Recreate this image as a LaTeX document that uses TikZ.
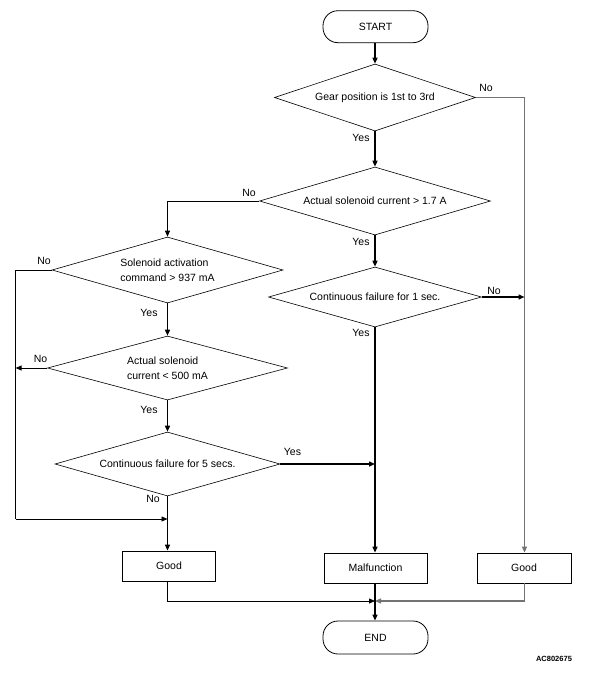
\documentclass[tikz,border=0pt]{standalone}
\usepackage{fontspec}
\setmainfont{Liberation Sans}
\usetikzlibrary{shapes.geometric,arrows.meta}
\begin{document}
\begin{tikzpicture}[x=1pt,y=-1pt,
  font=\fontsize{10.5}{15.5}\selectfont,
  dia/.style={draw,shape=diamond,line width=0.6pt,inner sep=0pt,align=left},
  term/.style={draw,rectangle,rounded corners=15pt,line width=0.8pt,minimum width=105pt,minimum height=32pt,inner sep=0pt},
  box/.style={draw,rectangle,line width=0.8pt,minimum height=30pt,inner sep=0pt},
  thk/.style={line width=1.4pt,-{Triangle[length=6pt,width=5pt]}},
  thn/.style={line width=0.8pt,-{Triangle[length=6pt,width=5pt]}},
  gry/.style={line width=1.2pt,draw=black!55,-{Triangle[length=6pt,width=5pt]}},
  lbl/.style={inner sep=0pt}
]
\useasboundingbox (0,0) rectangle (592,675);

\node[term] (start) at (375.5,26.7) {START};
\node[dia,minimum width=201pt,minimum height=67pt,shape aspect=3] (d1) at (375,97.5) {Gear position is 1st to 3rd};
\node[dia,minimum width=231pt,minimum height=68pt,shape aspect=3.397] (d2) at (375,201) {Actual solenoid current > 1.7 A};
\node[dia,minimum width=231pt,minimum height=66pt,shape aspect=3.5] (d3) at (167.5,270) {Solenoid activation\\command > 937 mA};
\node[dia,minimum width=213pt,minimum height=60pt,shape aspect=3.55] (d4) at (375,297) {Continuous failure for 1 sec.};
\node[dia,minimum width=240pt,minimum height=64pt,shape aspect=3.75] (d5) at (167.5,368) {Actual solenoid\\current < 500 mA};
\node[dia,minimum width=225pt,minimum height=64pt,shape aspect=3.516] (d6) at (167.5,464) {Continuous failure for 5 secs.};
\node[box,minimum width=93pt] (good1) at (169,566) {Good};
\node[box,minimum width=103pt] (malf) at (375.5,568) {Malfunction};
\node[box,minimum width=94pt] (good2) at (524,568) {Good};
\node[term,minimum height=33pt] (end) at (375.5,637.5) {END};
\node[lbl,font=\bfseries\fontsize{7.5}{9}\selectfont] (code) at (554,659) {AC802675};

\coordinate (rtop) at (524.5,97.5);
\coordinate (rmid) at (524.5,297);
\coordinate (d2l) at (167.5,201);
\coordinate (ltop) at (15.6,270);
\coordinate (lbot) at (15.6,519);
\coordinate (lend) at (167.5,519);
\coordinate (lmid) at (15.6,368);
\coordinate (cmid) at (375,464);
\coordinate (g1b) at (167.5,601);
\coordinate (g2b) at (524.5,601);
\coordinate (merge) at (375,601);

\draw[thk] (start.south -| d1.north) -- (d1.north);
\draw[thk] (d1.south) -- (d2.north);
\draw[gry] (d1.east) -- (rtop) -- (good2.north -| rtop);
\draw[thn] (d2.west) -- (d2l) -- (d3.north);
\draw[thk] (d2.south) -- (d4.north);
\draw[thk] (d4.east) -- (rmid);
\draw[thk] (d4.south) -- (malf.north -| d4.south);
\draw[line width=0.8pt] (d3.west) -- (ltop) -- (lbot);
\draw[thn] (lbot) -- (lend);
\draw[thk] (d3.south) -- (d5.north);
\draw[thn] (d5.west) -- (lmid);
\draw[thk] (d5.south) -- (d6.north);
\draw[thk] (d6.east) -- (cmid);
\draw[thk] (d6.south) -- (good1.north -| d6.south);
\draw[thn] (good1.south -| g1b) -- (g1b) -- (merge);
\draw[gry] (good2.south -| g2b) -- (g2b) -- (merge);
\draw[thk] (malf.south -| merge) -- (end.north -| merge);

\node[lbl] (l1) at (486,88) {No};
\node[lbl] (l2) at (361,138) {Yes};
\node[lbl] (l3) at (249,193) {No};
\node[lbl] (l4) at (361,242) {Yes};
\node[lbl] (l5) at (494,291) {No};
\node[lbl] (l6) at (361,333) {Yes};
\node[lbl] (l7) at (44,261) {No};
\node[lbl] (l8) at (149,313) {Yes};
\node[lbl] (l9) at (40.6,359) {No};
\node[lbl] (l10) at (149,410) {Yes};
\node[lbl] (l11) at (292.5,452) {Yes};
\node[lbl] (l12) at (153,499) {No};
\end{tikzpicture}
\end{document}
